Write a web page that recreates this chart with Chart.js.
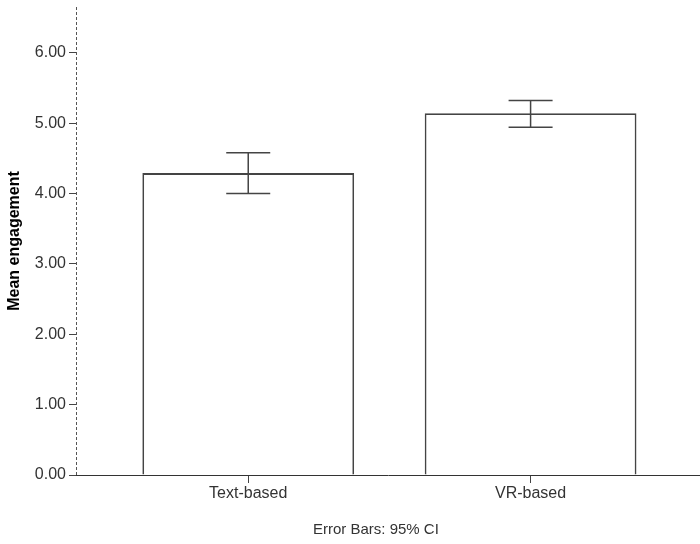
<!DOCTYPE html>
<html>
<head>
<meta charset="utf-8">
<script src="https://cdn.jsdelivr.net/npm/chart.js@4.4.0/dist/chart.umd.min.js"></script>
<style>
  html, body { margin: 0; padding: 0; background: #fff; }
  #wrap { width: 700px; height: 544px; }
</style>
</head>
<body>
<div id="wrap"><canvas id="myChart" width="700" height="544"></canvas></div>
<script>
// data
const categories = ['Text-based', 'VR-based'];
const meanEngagement = [4.29, 5.14];
const ciUpper = [4.58, 5.32];
const ciLower = [4.00, 4.94];
const yTicks = [0, 1, 2, 3, 4, 5, 6];

const FONT = "'Liberation Sans', Arial, sans-serif";
const LINE = '#444';

// error bars drawn on top of the bars
const errorBars = {
    id: 'errorBars',
    afterDatasetsDraw(chart) {
        const ctx = chart.ctx;
        const xs = chart.scales.x;
        const ys = chart.scales.y;
        ctx.save();
        ctx.strokeStyle = LINE;
        ctx.lineWidth = 1.5;
        categories.forEach((c, i) => {
            const x = xs.getPixelForValue(i + 1);
            const hi = ys.getPixelForValue(ciUpper[i]);
            const lo = ys.getPixelForValue(ciLower[i]);
            ctx.beginPath();
            ctx.moveTo(x, hi); ctx.lineTo(x, lo);
            ctx.moveTo(x - 22, hi); ctx.lineTo(x + 22, hi);
            ctx.moveTo(x - 22, lo); ctx.lineTo(x + 22, lo);
            ctx.stroke();
        });
        ctx.restore();
    }
};

// dashed y axis line + footnote
const extras = {
    id: 'extras',
    afterDraw(chart) {
        const ctx = chart.ctx;
        const a = chart.chartArea;
        ctx.save();
        ctx.strokeStyle = '#555';
        ctx.lineWidth = 1;
        ctx.setLineDash([3, 2]);
        ctx.beginPath();
        ctx.moveTo(a.left + 0.5, a.top);
        ctx.lineTo(a.left + 0.5, a.bottom);
        ctx.stroke();
        ctx.setLineDash([]);

        ctx.font = '15px ' + FONT;
        ctx.fillStyle = '#333';
        ctx.textAlign = 'left';
        ctx.textBaseline = 'middle';
        ctx.fillText('Error Bars: 95% CI', 313, 530);
        ctx.restore();
    }
};

const ctx = document.getElementById('myChart').getContext('2d');
const myChart = new Chart(ctx, {
    type: 'bar',
    data: {
        datasets: [{
            label: 'Mean engagement',
            data: categories.map((c, i) => ({ x: i + 1, y: meanEngagement[i] })),
            backgroundColor: '#ffffff',
            borderColor: LINE,
            borderWidth: 1.8,
            barPercentage: 0.75,
            categoryPercentage: 1
        }]
    },
    options: {
        responsive: false,
        animation: false,
        layout: { padding: { top: 7, left: 0, right: 0, bottom: 0 } },
        plugins: {
            legend: { display: false },
            tooltip: { enabled: false }
        },
        scales: {
            x: {
                type: 'linear',
                min: 0.39,
                max: 2.6,
                offset: false,
                afterBuildTicks: (scale) => {
                    scale.ticks = categories.map((c, i) => ({ value: i + 1 }));
                },
                afterFit: (scale) => {
                    scale.height = 69;
                    scale.paddingLeft = 0;
                    scale.paddingRight = 0;
                },
                grid: { offset: false, drawOnChartArea: false, drawTicks: true, tickLength: 8, color: LINE },
                border: { display: true, color: '#333', width: 1 },
                ticks: {
                    padding: 1,
                    color: '#333',
                    font: { family: FONT, size: 16 },
                    callback: (v) => categories[v - 1] || ''
                }
            },
            y: {
                min: 0,
                max: 6.65,
                afterBuildTicks: (scale) => {
                    scale.ticks = yTicks.map(v => ({ value: v }));
                },
                afterFit: (scale) => {
                    scale.width = 76;
                    scale.paddingTop = 0;
                    scale.paddingBottom = 0;
                },
                grid: { drawOnChartArea: false, drawTicks: true, tickLength: 7, color: LINE },
                border: { display: false },
                ticks: {
                    padding: 3,
                    color: '#333',
                    font: { family: FONT, size: 16 },
                    callback: (v) => v.toFixed(2)
                },
                title: {
                    display: true,
                    text: 'Mean engagement',
                    color: '#000',
                    padding: { top: 5, bottom: 0 },
                    font: { family: FONT, size: 16, weight: 'bold' }
                }
            }
        }
    },
    plugins: [errorBars, extras]
});
</script>
</body>
</html>
